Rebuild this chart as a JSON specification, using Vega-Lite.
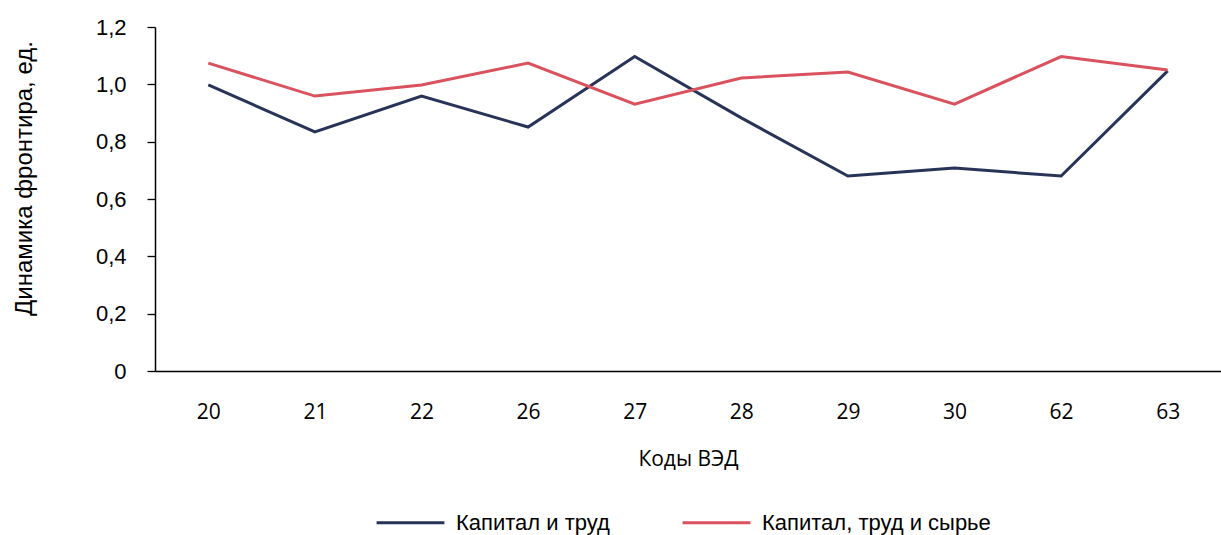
{
  "$schema": "https://vega.github.io/schema/vega-lite/v6.json",
  "width": 1066,
  "height": 344,
  "autosize": {"type": "none"},
  "padding": {"left": 155, "top": 27, "right": 0, "bottom": 164},
  "background": "white",
  "data": {
    "values": [
      {"code": "20", "series": "Капитал и труд", "value": 0.998},
      {"code": "21", "series": "Капитал и труд", "value": 0.834},
      {"code": "22", "series": "Капитал и труд", "value": 0.959},
      {"code": "26", "series": "Капитал и труд", "value": 0.851},
      {"code": "27", "series": "Капитал и труд", "value": 1.097},
      {"code": "28", "series": "Капитал и труд", "value": 0.883},
      {"code": "29", "series": "Капитал и труд", "value": 0.680},
      {"code": "30", "series": "Капитал и труд", "value": 0.708},
      {"code": "62", "series": "Капитал и труд", "value": 0.680},
      {"code": "63", "series": "Капитал и труд", "value": 1.047},
      {"code": "20", "series": "Капитал, труд и сырье", "value": 1.074},
      {"code": "21", "series": "Капитал, труд и сырье", "value": 0.959},
      {"code": "22", "series": "Капитал, труд и сырье", "value": 0.998},
      {"code": "26", "series": "Капитал, труд и сырье", "value": 1.074},
      {"code": "27", "series": "Капитал, труд и сырье", "value": 0.931},
      {"code": "28", "series": "Капитал, труд и сырье", "value": 1.022},
      {"code": "29", "series": "Капитал, труд и сырье", "value": 1.043},
      {"code": "30", "series": "Капитал, труд и сырье", "value": 0.931},
      {"code": "62", "series": "Капитал, труд и сырье", "value": 1.097},
      {"code": "63", "series": "Капитал, труд и сырье", "value": 1.050}
    ]
  },
  "config": {
    "view": {"stroke": null},
    "font": "Liberation Sans"
  },
  "mark": {"type": "line", "strokeWidth": 3, "strokeCap": "butt", "strokeJoin": "miter"},
  "encoding": {
    "x": {
      "field": "code",
      "type": "ordinal",
      "sort": null,
      "scale": {"type": "point", "padding": 0.5},
      "axis": {
        "title": "Коды ВЭД",
        "titleFont": "Open Sans",
        "titleFontSize": 21,
        "titleFontWeight": "normal",
        "titleColor": "#000",
        "titlePadding": 26,
        "labelAngle": 0,
        "labelFont": "Open Sans",
        "labelFontSize": 21,
        "labelColor": "#000",
        "labelPadding": 30,
        "ticks": false,
        "domainColor": "#000",
        "domainWidth": 1.5,
        "grid": false
      }
    },
    "y": {
      "field": "value",
      "type": "quantitative",
      "scale": {"domain": [0, 1.2], "nice": false},
      "axis": {
        "title": "Динамика фронтира, ед.",
        "titleFontSize": 24,
        "titleFontWeight": "normal",
        "titleColor": "#000",
        "titlePadding": 59,
        "titleY": 151,
        "values": [0, 0.2, 0.4, 0.6, 0.8, 1.0, 1.2],
        "labelExpr": "datum.value == 0 ? '0' : replace(format(datum.value, '.1f'), '.', ',')",
        "labelFontSize": 22,
        "labelColor": "#000",
        "labelPadding": 21,
        "tickSize": 8,
        "tickColor": "#000",
        "tickWidth": 1.3,
        "domainColor": "#000",
        "domainWidth": 1.5,
        "grid": false
      }
    },
    "color": {
      "field": "series",
      "type": "nominal",
      "scale": {"domain": ["Капитал и труд", "Капитал, труд и сырье"], "range": ["#283358", "#d9525e"]},
      "legend": {
        "title": null,
        "orient": "none",
        "legendX": 220,
        "legendY": 460,
        "direction": "horizontal",
        "symbolType": "stroke",
        "symbolSize": 4600,
        "symbolStrokeWidth": 3,
        "labelFontSize": 22,
        "labelColor": "#000",
        "labelOffset": 10,
        "labelLimit": 500,
        "columnPadding": 66
      }
    }
  }
}
